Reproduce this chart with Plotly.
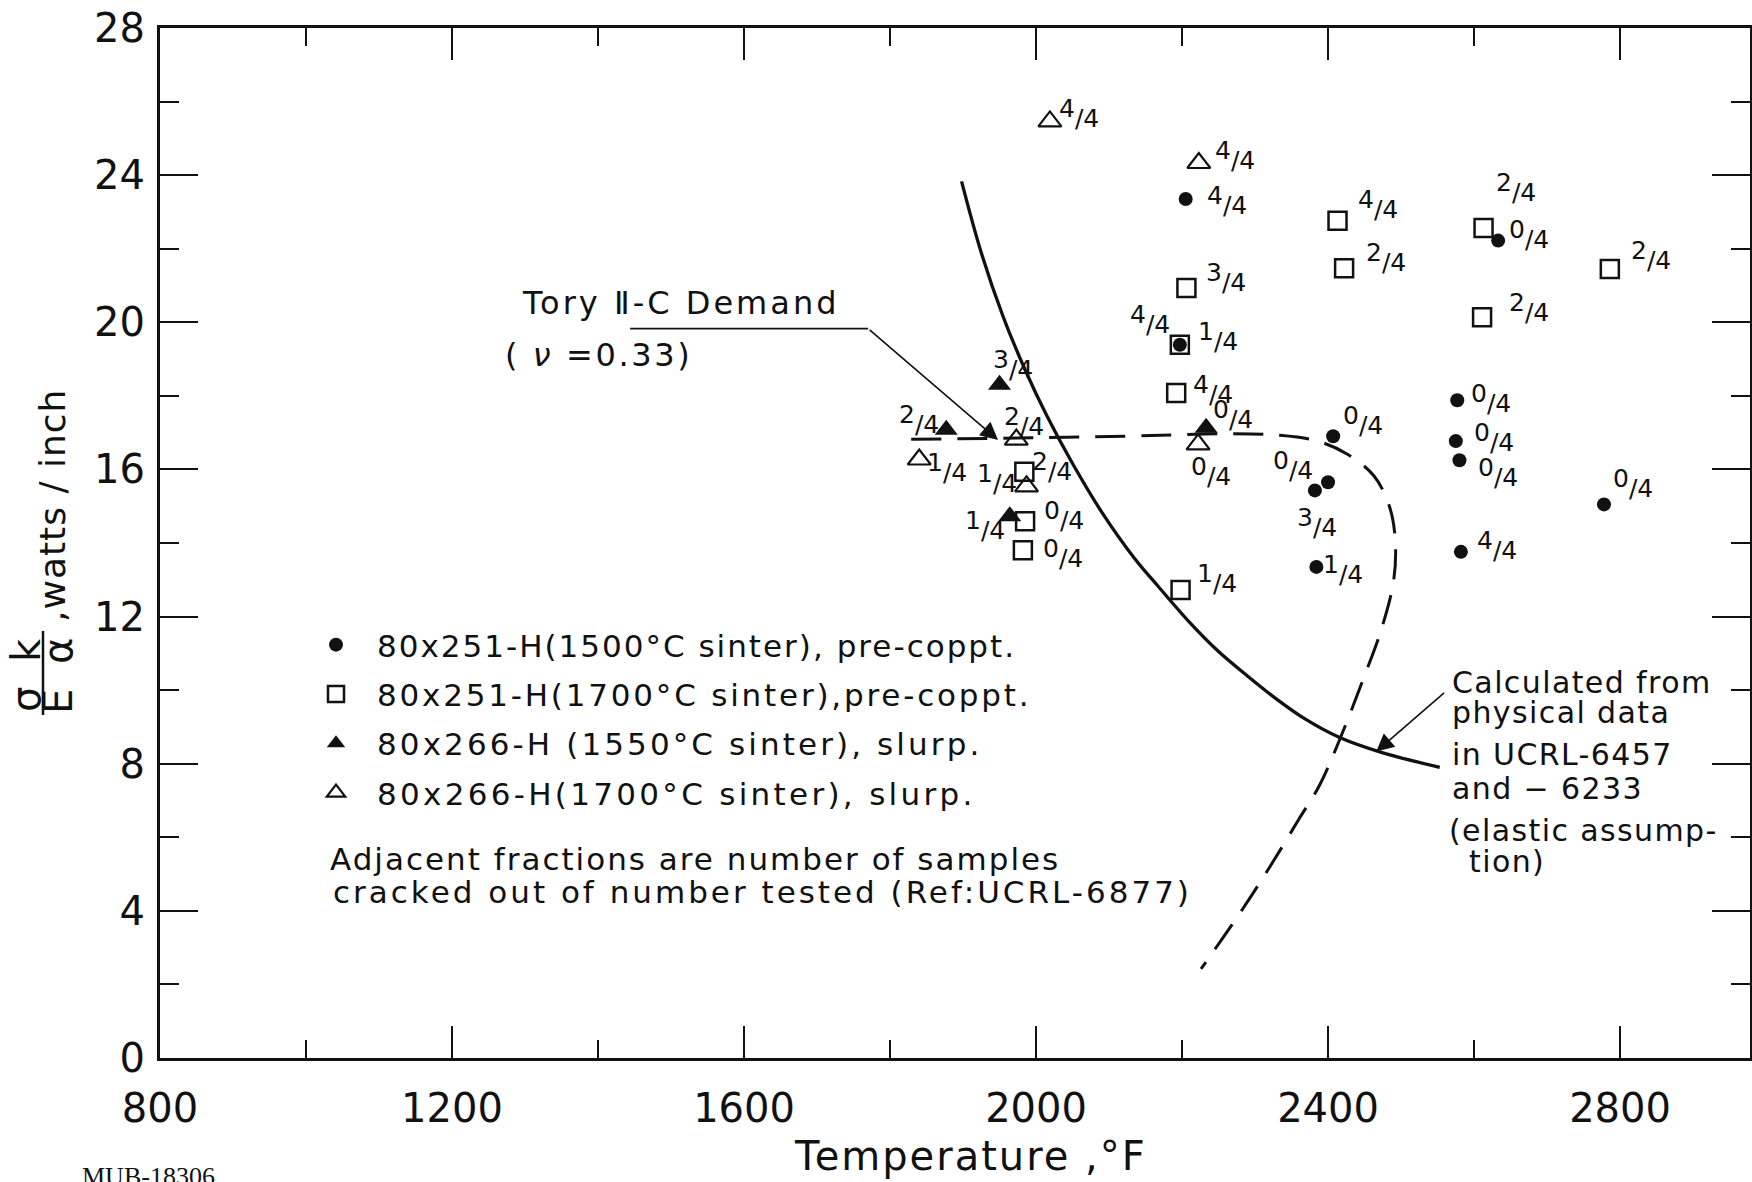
import plotly.graph_objects as go

# ---------------- data ----------------
# 80x251-H (1500 C sinter), pre-coppt.  -> filled circles
circle_T = [2205, 2197, 2407, 2400, 2382, 2384, 2633, 2577, 2575, 2580, 2582, 2778]
circle_V = [23.35, 19.39, 16.90, 15.65, 15.43, 13.35, 22.22, 17.88, 16.77, 16.25, 13.76, 15.05]
circle_lbl = ["4/4", "4/4", "0/4", "0/4", "3/4", "1/4", "0/4", "0/4", "0/4", "0/4", "4/4", "0/4"]

# 80x251-H (1700 C sinter), pre-coppt.  -> open squares
square_T = [2413, 2422, 2206, 2197, 2192, 1984, 1985, 1982, 2198, 2613, 2611, 2786]
square_V = [22.76, 21.47, 20.93, 19.39, 18.08, 15.94, 14.59, 13.80, 12.72, 22.56, 20.14, 21.45]
square_lbl = ["4/4", "2/4", "3/4", "1/4", "4/4", "2/4", "0/4", "0/4", "1/4", "2/4", "2/4", "2/4"]

# 80x266-H (1550 C sinter), slurp.  -> filled triangles
ftri_T = [1950, 1877, 1964, 2233]
ftri_V = [18.30, 17.08, 14.73, 17.13]
ftri_lbl = ["3/4", "2/4", "1/4", "0/4"]

# 80x266-H (1700 C sinter), slurp.  -> open triangles
otri_T = [2019, 2223, 1973, 1840, 1987, 2222]
otri_V = [25.46, 24.33, 16.81, 16.27, 15.54, 16.68]
otri_lbl = ["4/4", "4/4", "2/4", "1/4", "1/4", "0/4"]

# Calculated curve (solid)
calc_T = [1898, 1925, 1955, 1985, 2015, 2050, 2090, 2135, 2167, 2211, 2250, 2290, 2330, 2369, 2416, 2474, 2553]
calc_V = [23.83, 21.89, 20.15, 18.71, 17.45, 16.16, 14.84, 13.58, 12.83, 11.83, 11.05, 10.38, 9.75, 9.21, 8.71, 8.30, 7.90]

# Tory II-C demand curve (dashed)
demand_T = [1829, 2000, 2158, 2263, 2332, 2384, 2426, 2463, 2484, 2492, 2490, 2473, 2448, 2416, 2388, 2360, 2321, 2283, 2226]
demand_V = [16.82, 16.86, 16.92, 16.97, 16.93, 16.78, 16.42, 15.82, 15.00, 14.10, 13.00, 11.65, 10.29, 8.66, 7.40, 6.49, 5.22, 4.05, 2.42]

x_ticks = [800, 1200, 1600, 2000, 2400, 2800]
y_ticks = [0, 4, 8, 12, 16, 20, 24, 28]

series_names = [
    "80x251-H(1500°C sinter), pre-coppt.",
    "80x251-H(1700°C sinter),pre-coppt.",
    "80x266-H (1550°C sinter), slurp.",
    "80x266-H(1700°C sinter), slurp.",
]

# ---------------- layout / style ----------------
W, H = 1752, 1182
ML, MR, MT, MB = 160, 2, 28, 124
PW, PH = W - ML - MR, H - MT - MB
FONT = "DejaVu Sans"
INK = "#111111"
legend_ls = [2, 2.8, 3.1, 3.3]

# label offsets (pixels, +x right, +y down) — placement style for the fraction labels
circle_off = [(41, 2), (-30, -25), (30, -15), (-35, -16), (2, 33), (27, 3), (31, -6), (34, -1), (38, -3), (39, 13), (36, -6), (29, -20)]
square_off = [(40, -16), (42, -10), (40, -10), (38, -8), (37, -3), (28, -5), (39, -5), (40, 4), (36, -11), (32, -40), (47, -9), (41, -13)]
ftri_off = [(13, -20), (-27, -10), (-25, 10), (27, -13)]
otri_off = [(29, -7), (36, -7), (8, -18), (28, 8), (-30, -7), (13, 28)]


def px(x):
    return (x - ML) / PW


def py(y):
    return (H - MB - y) / PH


def sp(s, ls):
    return f"<span style='letter-spacing:{ls}px'>{s}</span>"


def frac(lbl):
    n, d = lbl.split("/")
    return f"<span style='baseline-shift:42%'>{n}</span>/{d}"


fig = go.Figure()

# curves
fig.add_trace(go.Scatter(x=calc_T, y=calc_V, mode="lines", line=dict(color=INK, width=3.3, shape="spline"),
                         showlegend=False, hoverinfo="skip"))
fig.add_trace(go.Scatter(x=demand_T, y=demand_V, mode="lines",
                         line=dict(color=INK, width=3, shape="spline", dash="30px,16px"),
                         showlegend=False, hoverinfo="skip"))

# points
fig.add_trace(go.Scatter(x=circle_T, y=circle_V, mode="markers", name=sp(series_names[0], legend_ls[0]), legendgroup="a",
                         marker=dict(symbol="circle", size=14, color=INK)))
fig.add_trace(go.Scatter(x=square_T, y=square_V, mode="markers", name=sp(series_names[1], legend_ls[1]), legendgroup="b",
                         marker=dict(symbol="square-open", size=18, color=INK, line=dict(width=2.5, color=INK))))
fig.add_trace(go.Scatter(x=ftri_T, y=ftri_V, mode="markers", name=sp(series_names[2], legend_ls[2]), legendgroup="c",
                         marker=dict(symbol="triangle-up", size=20, color=INK)))
fig.add_trace(go.Scatter(x=otri_T, y=otri_V, mode="markers", name=sp(series_names[3], legend_ls[3]), legendgroup="d",
                         marker=dict(symbol="triangle-up-open", size=20, color=INK, line=dict(width=2.2, color=INK))))

ann = []
for Ts, Vs, Ls, Os in [(circle_T, circle_V, circle_lbl, circle_off),
                       (square_T, square_V, square_lbl, square_off),
                       (ftri_T, ftri_V, ftri_lbl, ftri_off),
                       (otri_T, otri_V, otri_lbl, otri_off)]:
    for t, v, l, (dx, dy) in zip(Ts, Vs, Ls, Os):
        ann.append(dict(x=t, y=v, xref="x", yref="y", text=frac(l), showarrow=False,
                        xshift=dx, yshift=-dy + 1, font=dict(family=FONT, size=25, color=INK)))


# text blocks
def txt(s, x, y, size=30, anchor="left", ls=0, **kw):
    ann.append(dict(x=px(x), y=py(y), xref="paper", yref="paper", text=sp(s, ls) if ls else s, showarrow=False,
                    xanchor=anchor, yanchor="middle", font=dict(family=FONT, size=size, color=INK), **kw))


txt("Tory Ⅱ-C Demand", 520, 303, size=32, ls=3)
txt("( <i>ν</i> =0.33)", 503, 355, size=32, ls=2.6)

for s, x, y in [("Calculated from", 1450, 683), ("physical data", 1450, 713), ("in UCRL-6457", 1450, 754),
                ("and − 6233", 1450, 789), ("(elastic assump-", 1447, 830), ("tion)", 1467, 861)]:
    txt(s, x, y, size=30, ls=1.4)

txt("Adjacent fractions are number of samples", 328, 859, size=31, ls=2)
txt("cracked out of number tested (Ref:UCRL-6877)", 331, 892, size=31, ls=3)

# x-axis title
txt("Temperature ,°F", 970, 1156, size=40, anchor="center", ls=2)

# y-axis title built as a stacked fraction
txt("σ k", 26, 673, size=40, anchor="center", textangle=-90, ls=6)
txt("E α", 58, 673, size=40, anchor="center", textangle=-90, ls=6)
txt(",watts / inch", 52, 506, size=36, anchor="center", textangle=-90, ls=1)

# figure id
ann.append(dict(x=px(80), y=py(1160), xref="paper", yref="paper", text="MUB-18306", showarrow=False,
                xanchor="left", yanchor="top", font=dict(family="Liberation Serif", size=26, color=INK)))

# leader arrows
ann.append(dict(x=1948, y=16.80, ax=1770, ay=19.83, xref="x", yref="y", axref="x", ayref="y", text="",
                showarrow=True, arrowhead=2, arrowsize=2.2, arrowwidth=1.6, arrowcolor=INK, standoff=0))
ann.append(dict(x=2466, y=8.33, ax=2561, ay=9.96, xref="x", yref="y", axref="x", ayref="y", text="",
                showarrow=True, arrowhead=2, arrowsize=2.2, arrowwidth=1.6, arrowcolor=INK, standoff=0))

shapes = [
    dict(type="line", xref="x", yref="y", x0=1444, x1=1770, y0=19.83, y1=19.83, line=dict(color=INK, width=1.8)),
    dict(type="line", xref="paper", yref="paper", x0=px(43), x1=px(43), y0=py(631), y1=py(715),
         line=dict(color=INK, width=2.5)),
]

axis_common = dict(showgrid=False, zeroline=False, showline=True, linewidth=3, linecolor=INK,
                   mirror="ticks", ticks="inside", tickwidth=2, tickcolor=INK,
                   tickfont=dict(family=FONT, size=40, color=INK))

fig.update_layout(
    width=W, height=H, margin=dict(l=ML, r=MR, t=MT, b=MB, autoexpand=False),
    paper_bgcolor="white", plot_bgcolor="white",
    xaxis=dict(range=[800, 2978], tickvals=x_ticks, ticklen=32, ticklabelstandoff=13,
               minor=dict(dtick=200, tick0=800, ticks="inside", ticklen=18, tickwidth=2, tickcolor=INK, showgrid=False),
               **axis_common),
    yaxis=dict(range=[0, 28], tickvals=y_ticks, ticklen=38, ticklabelstandoff=4,
               minor=dict(dtick=2, tick0=0, ticks="inside", ticklen=19, tickwidth=2, tickcolor=INK, showgrid=False),
               **axis_common),
    legend=dict(x=px(295), y=py(618), xanchor="left", yanchor="top", bgcolor="rgba(0,0,0,0)",
                font=dict(family=FONT, size=31, color=INK), itemwidth=72, tracegroupgap=6,
                itemclick=False, itemdoubleclick=False),
    annotations=ann, shapes=shapes, showlegend=True,
)

fig.write_html("out.html")
